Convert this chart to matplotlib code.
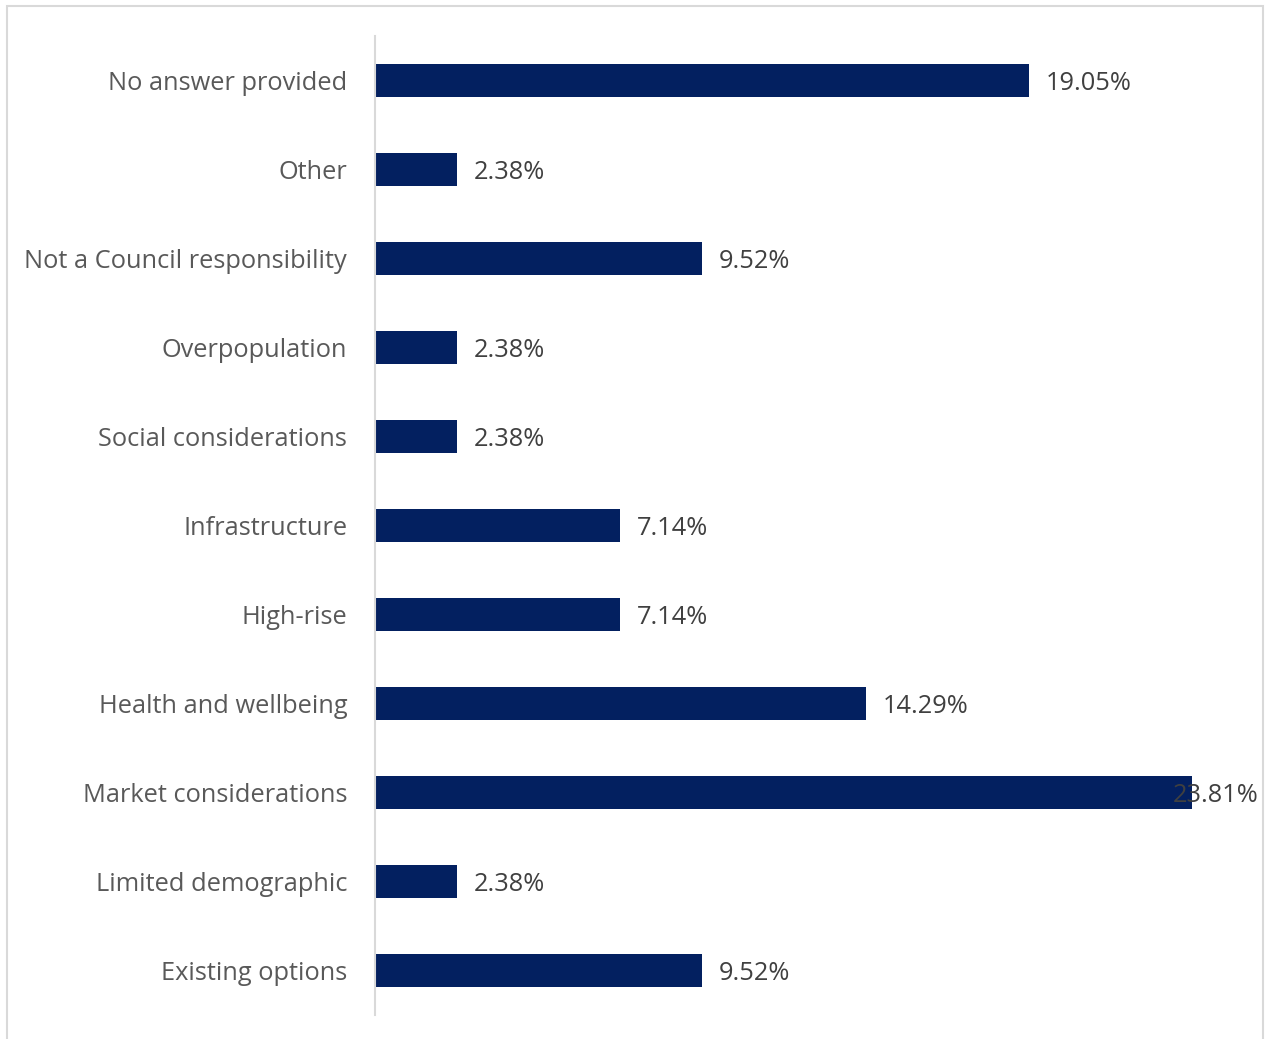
import matplotlib.pyplot as plt
from matplotlib.patches import Rectangle

plt.rcParams['font.family'] = ['Open Sans', 'DejaVu Sans']

# Reasons, listed top to bottom
categories = [
    'No answer provided', 'Other', 'Not a Council responsibility',
    'Overpopulation', 'Social considerations', 'Infrastructure',
    'High-rise', 'Health and wellbeing', 'Market considerations',
    'Limited demographic', 'Existing options',
]
shares = [19.05, 2.38, 9.52, 2.38, 2.38, 7.14, 7.14, 14.29, 23.81, 2.38, 9.52]
labels = ['19.05%', '2.38%', '9.52%', '2.38%', '2.38%', '7.14%', '7.14%',
          '14.29%', '23.81%', '2.38%', '9.52%']

W, H = 1265, 1039
fig = plt.figure(figsize=(W / 100, H / 100), dpi=100)

# outer chart frame, runs off the bottom of the image
fig.patches.append(Rectangle((7 / W, -0.05), (1263 - 7) / W, 1.05 - 6 / H,
                             transform=fig.transFigure, fill=False,
                             edgecolor='#d9d9d9', linewidth=1.5))

ax = fig.add_axes([375 / W, 1 - 1015 / H, (1258 - 375) / W, (1015 - 36) / H])
xmax = (1258 - 375) / 34.33

ypos = list(range(len(categories)))
ax.barh(ypos, shares, height=0.36, color='#032060')
ax.set_ylim(len(categories) - 0.5, -0.5)
ax.set_xlim(0, xmax)

for y, v, t in zip(ypos, shares, labels):
    if v + 3.2 > xmax:
        ax.text(xmax, y, t, ha='right', va='center_baseline', fontsize=18.3,
                color='#404040', clip_on=False)
    else:
        ax.text(v + 0.5, y, t, ha='left', va='center_baseline', fontsize=18.3,
                color='#404040')

ax.set_yticks(ypos)
ax.set_yticklabels(categories, fontsize=18.3, color='#595959')
ax.tick_params(axis='y', length=0, pad=20)
ax.set_xticks([])

for s in ['top', 'right', 'bottom']:
    ax.spines[s].set_visible(False)
ax.spines['left'].set_color('#d9d9d9')
ax.spines['left'].set_linewidth(1.5)

fig.savefig('out.png', dpi=100)
